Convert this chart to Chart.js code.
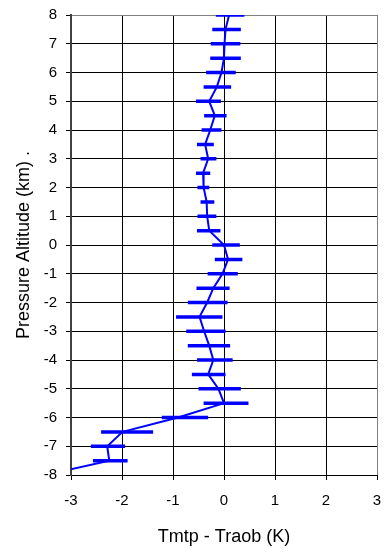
<!DOCTYPE html>
<html lang="en">
<head>
  <meta charset="UTF-8">
  <title>Tmtp - Traob profile</title>
  <script src="https://cdn.jsdelivr.net/npm/chart.js@4.4.1/dist/chart.umd.min.js"></script>
  <style>
    html,body{margin:0;padding:0;background:#fff;}
    canvas{display:block;}
  </style>
</head>
<body>
<canvas id="profile" width="389" height="553"></canvas>
<script>
/****************  DATA  ****************/
// pressure altitude levels (km), top to bottom
const altitude=[8,7.5,7,6.5,6,5.5,5,4.5,4,3.5,3,2.5,2,1.5,1,0.5,0,-0.5,-1,-1.5,-2,-2.5,-3,-3.5,-4,-4.5,-5,-5.5,-6,-6.5,-7,-7.5,-8];
// mean Tmtp - Traob (K)
const meanDiff=[0.10,0.03,0.01,0.00,-0.05,-0.14,-0.29,-0.18,-0.27,-0.37,-0.31,-0.41,-0.40,-0.34,-0.33,-0.29,0.00,0.08,-0.03,-0.21,-0.33,-0.48,-0.39,-0.29,-0.21,-0.31,-0.11,0.00,-0.90,-1.99,-2.29,-2.25,-3.5];
// error bar ends (K)
const errLow=[-0.16,-0.23,-0.26,-0.27,-0.35,-0.40,-0.55,-0.39,-0.44,-0.53,-0.46,-0.55,-0.52,-0.46,-0.52,-0.53,-0.23,-0.18,-0.32,-0.54,-0.71,-0.94,-0.74,-0.71,-0.53,-0.63,-0.50,-0.40,-1.22,-2.41,-2.61,-2.57,null];
const errHigh=[0.40,0.33,0.32,0.33,0.23,0.14,-0.06,0.05,-0.05,-0.20,-0.15,-0.27,-0.29,-0.19,-0.15,-0.07,0.31,0.36,0.27,0.11,0.07,-0.03,0.03,0.12,0.17,0.03,0.33,0.48,-0.31,-1.39,-1.94,-1.89,null];
const xTicksMin=-3, xTicksMax=3, yTicksMin=-8, yTicksMax=8;

/****************  BUILD  ****************/
const linePts=altitude.map((a,i)=>({x:meanDiff[i],y:a}));
// one dataset for all error bars, broken by null points
const barPts=[];
altitude.forEach((a,i)=>{
  if(errLow[i]===null) return;
  barPts.push({x:errLow[i],y:a},{x:errHigh[i],y:a},{x:null,y:null});
});

const FONT='"Liberation Sans", Arial, sans-serif';
const BLUE='#0000ff';

// drop the label overhang padding so the plot area sits where layout.padding says
function noOverhang(s){s.paddingTop=0;s.paddingBottom=0;s.paddingLeft=0;s.paddingRight=0;}

new Chart(document.getElementById('profile'),{
  type:'scatter',
  data:{datasets:[
    {data:barPts,showLine:true,spanGaps:false,borderColor:BLUE,borderWidth:3.5,pointRadius:0,borderCapStyle:'butt'},
    {data:linePts,showLine:true,borderColor:BLUE,borderWidth:2,pointRadius:0,tension:0}
  ]},
  options:{
    responsive:false,
    animation:false,
    layout:{padding:{left:0,right:12,top:15,bottom:0}},
    plugins:{legend:{display:false},tooltip:{enabled:false}},
    scales:{
      x:{
        type:'linear',min:xTicksMin,max:xTicksMax,
        ticks:{stepSize:1,color:'#000',padding:12,font:{family:FONT,size:15},maxRotation:0},
        grid:{color:c=>c.tick&&c.tick.value===xTicksMax?'#808080':'#000',tickColor:'#000',tickLength:5,lineWidth:1},
        border:{color:'#000',width:1},
        title:{display:true,text:'Tmtp - Traob (K)',color:'#000',font:{family:FONT,size:18},padding:{top:0,bottom:5}},
        afterFit:s=>{s.height=78;noOverhang(s);}
      },
      y:{
        type:'linear',min:yTicksMin,max:yTicksMax,
        ticks:{stepSize:1,color:'#000',padding:9,font:{family:FONT,size:15}},
        grid:{color:c=>c.tick&&c.tick.value===yTicksMax?'#808080':'#000',tickColor:'#000',tickLength:5,lineWidth:1},
        border:{color:'#404040',width:2},
        title:{display:true,text:'Pressure Altitude (km) .',color:'#000',font:{family:FONT,size:18},padding:{top:13,bottom:0}},
        afterFit:s=>{s.width=71;noOverhang(s);}
      }
    }
  }
});
</script>
</body>
</html>
